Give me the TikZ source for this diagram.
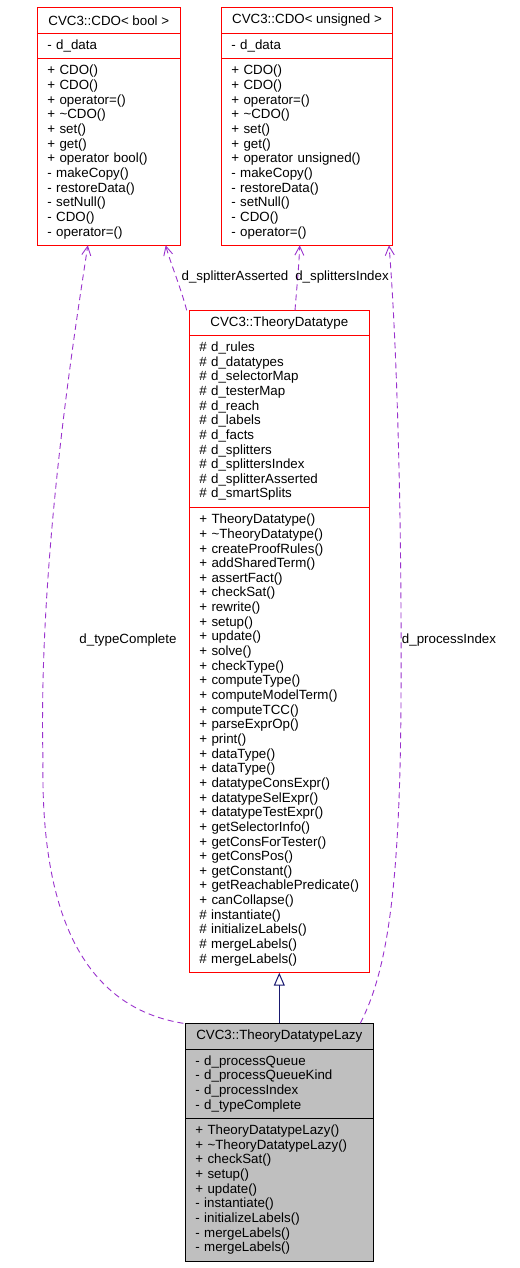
\documentclass[tikz,border=0pt]{standalone}
\usepackage{fontspec}
\setmainfont{Liberation Sans}
\usepackage{tikz}
\usetikzlibrary{arrows.meta,positioning}
\definecolor{umlred}{RGB}{255,0,0}
\definecolor{depviolet}{RGB}{154,50,205}
\definecolor{inhblue}{RGB}{25,25,112}
\definecolor{lazygray}{RGB}{191,191,191}
\newcommand{\umlfont}{\fontsize{13.33}{14.65}\selectfont}
\tikzset{
  classtitle/.style={draw=umlred,line width=1pt,outer sep=0pt,inner sep=0pt,align=center,font=\umlfont},
  classpart/.style={draw=umlred,line width=1pt,outer sep=0pt,inner xsep=10pt,inner ysep=0pt,align=left,font=\umlfont},
  lazytitle/.style={classtitle,draw=black,fill=lazygray},
  lazypart/.style={classpart,draw=black,fill=lazygray},
  dep/.style={-{Straight Barb[length=9pt,width=9pt]},draw=depviolet,line width=0.9pt,dash pattern=on 6pt off 4pt},
  inherit/.style={-{Triangle[open,length=13pt,width=11pt]},draw=inhblue,line width=1pt},
  edgelabel/.style={font=\umlfont,inner sep=0pt}
}

\begin{document}
\begin{tikzpicture}[x=1pt,y=-1pt]
  \useasboundingbox (0,0) rectangle (519,1268);

  % CVC3::CDO< bool >
  \node[classtitle,minimum width=143pt,minimum height=26pt,anchor=north] (boolT) at (108.8,7.3) {CVC3::CDO< bool >};
  \node[classpart,text width=123pt,minimum height=25.4pt,below=0pt of boolT] (boolA) {- d\_data};
  \node[classpart,text width=123pt,minimum height=186.6pt,below=0pt of boolA] (boolM) {+ CDO()\\+ CDO()\\+ operator=()\\+ \textasciitilde CDO()\\+ set()\\+ get()\\+ operator bool()\\- makeCopy()\\- restoreData()\\- setNull()\\- CDO()\\- operator=()};

  % CVC3::CDO< unsigned >
  \node[classtitle,minimum width=171.4pt,minimum height=26pt,anchor=north] (unsT) at (307,7.3) {CVC3::CDO< unsigned >};
  \node[classpart,text width=151.4pt,minimum height=25.4pt,below=0pt of unsT] (unsA) {- d\_data};
  \node[classpart,text width=151.4pt,minimum height=186.6pt,below=0pt of unsA] (unsM) {+ CDO()\\+ CDO()\\+ operator=()\\+ \textasciitilde CDO()\\+ set()\\+ get()\\+ operator unsigned()\\- makeCopy()\\- restoreData()\\- setNull()\\- CDO()\\- operator=()};

  % CVC3::TheoryDatatype
  \node[classtitle,minimum width=180pt,minimum height=25pt,anchor=north] (theoryT) at (279.3,310.3) {CVC3::TheoryDatatype};
  \node[classpart,text width=160pt,minimum height=172pt,below=0pt of theoryT] (theoryA) {\# d\_rules\\\# d\_datatypes\\\# d\_selectorMap\\\# d\_testerMap\\\# d\_reach\\\# d\_labels\\\# d\_facts\\\# d\_splitters\\\# d\_splittersIndex\\\# d\_splitterAsserted\\\# d\_smartSplits};
  \node[classpart,text width=160pt,minimum height=465.4pt,below=0pt of theoryA] (theoryM) {+ TheoryDatatype()\\+ \textasciitilde TheoryDatatype()\\+ createProofRules()\\+ addSharedTerm()\\+ assertFact()\\+ checkSat()\\+ rewrite()\\+ setup()\\+ update()\\+ solve()\\+ checkType()\\+ computeType()\\+ computeModelTerm()\\+ computeTCC()\\+ parseExprOp()\\+ print()\\+ dataType()\\+ dataType()\\+ datatypeConsExpr()\\+ datatypeSelExpr()\\+ datatypeTestExpr()\\+ getSelectorInfo()\\+ getConsForTester()\\+ getConsPos()\\+ getConstant()\\+ getReachablePredicate()\\+ canCollapse()\\\# instantiate()\\\# initializeLabels()\\\# mergeLabels()\\\# mergeLabels()};

  % CVC3::TheoryDatatypeLazy
  \node[lazytitle,minimum width=188pt,minimum height=25.7pt,anchor=north] (lazyT) at (279.3,1023.3) {CVC3::TheoryDatatypeLazy};
  \node[lazypart,text width=168pt,minimum height=69.3pt,below=0pt of lazyT] (lazyA) {- d\_processQueue\\- d\_processQueueKind\\- d\_processIndex\\- d\_typeComplete};
  \node[lazypart,text width=168pt,minimum height=143pt,below=0pt of lazyA] (lazyM) {+ TheoryDatatypeLazy()\\+ \textasciitilde TheoryDatatypeLazy()\\+ checkSat()\\+ setup()\\+ update()\\- instantiate()\\- initializeLabels()\\- mergeLabels()\\- mergeLabels()};

  \draw[inherit] (lazyT.north) -- (theoryM.south);

  \draw[dep] ([xshift=-2pt]lazyT.north west) .. controls (100,1010) and (40,940) .. (43,760)
    .. controls (38,560) and (75,330) .. ([xshift=-21pt]boolM.south);
  \draw[dep] ([xshift=-2.6pt]theoryT.north west) .. controls (180,285) and (170,262) .. ([xshift=-14.6pt]boolM.south east);
  \draw[dep] ([xshift=15.7pt]theoryT.north) .. controls (297,285) and (299,265) .. ([xshift=-7.3pt]unsM.south);
  \draw[dep] ([xshift=-13pt]lazyT.north east) .. controls (385,975) and (400,900) .. (401,700)
    .. controls (402,500) and (396,330) .. ([xshift=-3.7pt]unsM.south east);

  \node[edgelabel] (lblAsserted) at (235,276.7) {d\_splitterAsserted};
  \node[edgelabel] (lblIndex) at (342,276.7) {d\_splittersIndex};
  \node[edgelabel] (lblComplete) at (128,640) {d\_typeComplete};
  \node[edgelabel] (lblProcess) at (449,640) {d\_processIndex};
\end{tikzpicture}
\end{document}
